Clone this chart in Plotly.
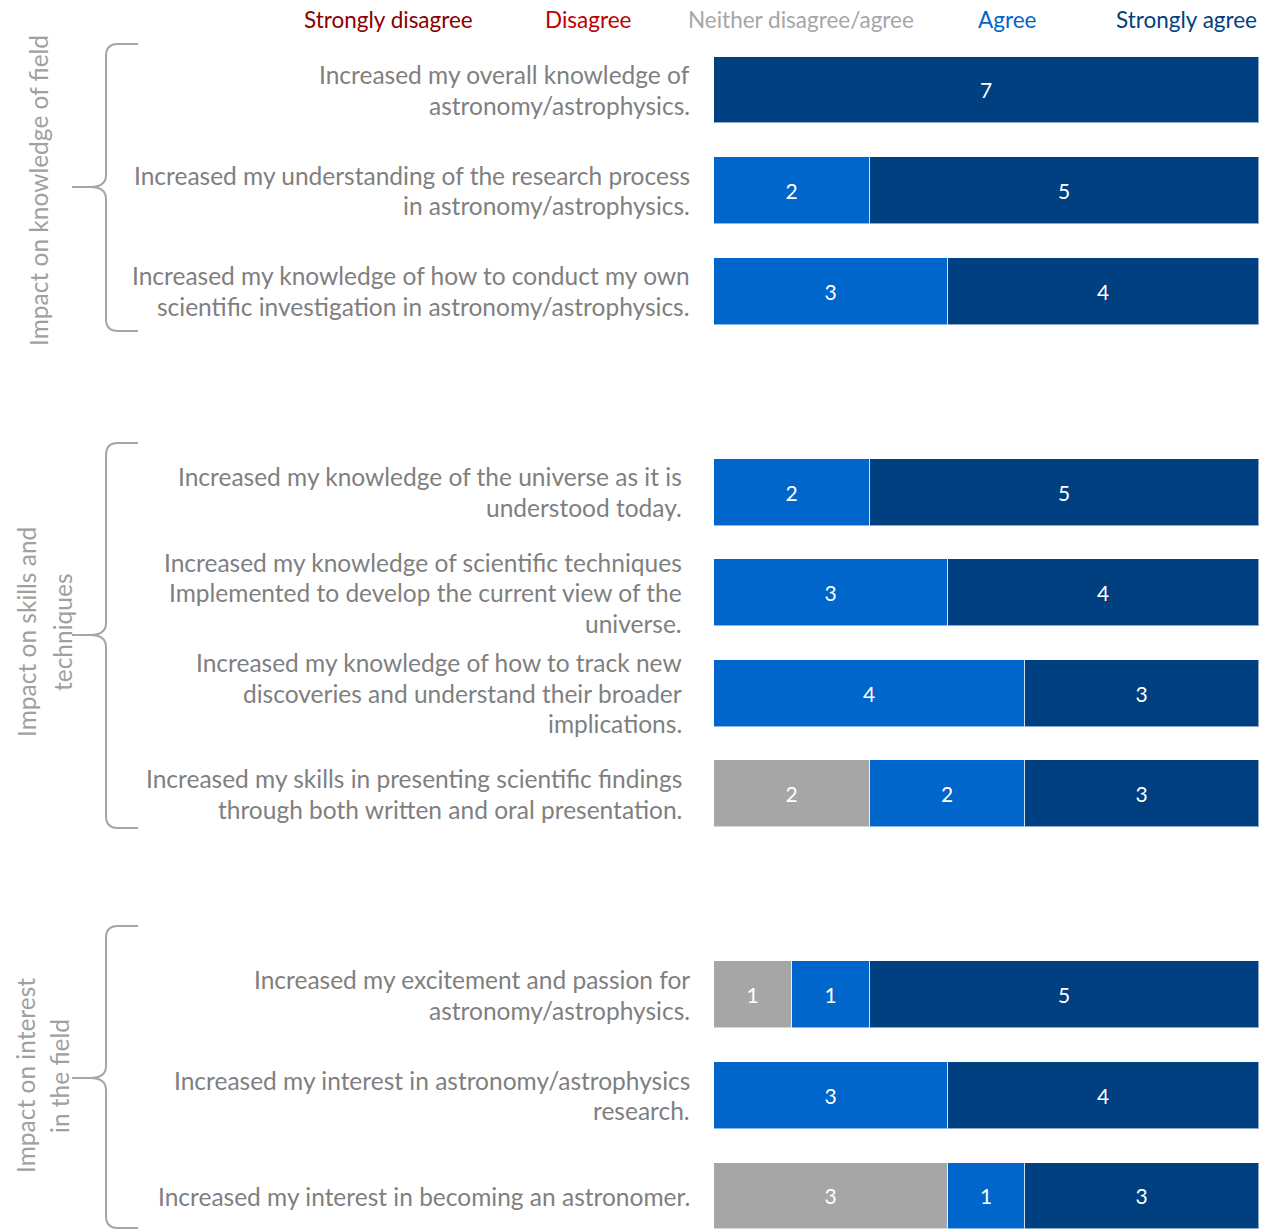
import plotly.graph_objects as go

W, H = 1267, 1230

# ---------------- data ----------------
group_names = [
    ["Impact on knowledge of field"],
    ["Impact on skills and", "techniques"],
    ["Impact on interest", "in the field"],
]
questions = [
    ["Increased my overall knowledge of<br>astronomy/astrophysics.",
     "Increased my understanding of the research process<br>in astronomy/astrophysics.",
     "Increased my knowledge of how to conduct my own<br>scientific investigation in astronomy/astrophysics."],
    ["Increased my knowledge of the universe as it is<br>understood today.",
     "Increased my knowledge of scientific techniques<br>Implemented to develop the current view of the<br>universe.",
     "Increased my knowledge of how to track new<br>discoveries and understand their broader<br>implications.",
     "Increased my skills in presenting scientific findings<br>through both written and oral presentation."],
    ["Increased my excitement and passion for<br>astronomy/astrophysics.",
     "Increased my interest in astronomy/astrophysics<br>research.",
     "Increased my interest in becoming an astronomer."],
]
categories = ["Strongly disagree", "Disagree", "Neither disagree/agree", "Agree", "Strongly agree"]
strongly_disagree = [0, 0, 0, 0, 0, 0, 0, 0, 0, 0]
disagree          = [0, 0, 0, 0, 0, 0, 0, 0, 0, 0]
neither           = [0, 0, 0, 0, 0, 0, 2, 1, 0, 3]
agree             = [0, 2, 3, 2, 3, 4, 2, 1, 3, 1]
strongly_agree    = [7, 5, 4, 5, 4, 3, 3, 5, 4, 3]
series = [strongly_disagree, disagree, neither, agree, strongly_agree]

# ---------------- styles ----------------
colors = ["#8B0000", "#C00000", "#A6A6A6", "#0066CC", "#003F80"]
FONT = "Lato"
label_gray = "#7F7F7F"
group_gray = "#A0A0A0"

# row positions: groups separated by one empty slot
ypos, group_of_row = [], []
slot = 0
for gi, g in enumerate(questions):
    for q in g:
        ypos.append(slot)
        group_of_row.append(gi)
        slot += 1
    slot += 1
labels = [q for g in questions for q in g]

fig = go.Figure()
for name, vals, col in zip(categories, series, colors):
    fig.add_trace(go.Bar(
        y=ypos, x=vals, name=name, orientation="h", width=0.666,
        marker=dict(color=col, line=dict(color="rgba(255,255,255,0.55)", width=1)),
        text=[str(v) if v else "" for v in vals],
        textposition="inside", insidetextanchor="middle", textangle=0,
        textfont=dict(family=FONT, size=21, color="white"),
        hoverinfo="skip", showlegend=False,
    ))

px_per_slot = 1106 / 11
y_top = -90 / px_per_slot
y_bot = y_top + H / px_per_slot

fig.update_layout(
    width=W, height=H, margin=dict(l=0, r=0, t=0, b=0),
    barmode="stack", bargap=0,
    paper_bgcolor="white", plot_bgcolor="white",
    xaxis=dict(domain=[714 / W, 1259 / W], range=[0, 7], visible=False, fixedrange=True),
    yaxis=dict(range=[y_bot, y_top], visible=False, fixedrange=True),
    font=dict(family=FONT),
)

# question labels (one annotation per line, 30 px line pitch)
right_edge = [692, 684, 692]
line_pitch = 30.5 / px_per_slot
for y, lab, gi in zip(ypos, labels, group_of_row):
    lines = lab.split("<br>")
    n = len(lines)
    for k, ln in enumerate(lines):
        fig.add_annotation(
            x=right_edge[gi] / W, xref="paper", y=y + (k - (n - 1) / 2) * line_pitch, yref="y",
            xanchor="right", yanchor="middle", align="right",
            text=ln, showarrow=False,
            font=dict(family=FONT, size=24.5, color=label_gray),
        )

# legend as coloured text
legend_x = [388, 588, 801, 1007, 1186]
for name, col, lx in zip(categories, colors, legend_x):
    fig.add_annotation(
        x=lx / W, xref="paper", y=1 - 20 / H, yref="paper",
        xanchor="center", yanchor="middle", text=name, showarrow=False,
        font=dict(family=FONT, size=22.5, color=col),
    )

# braces and group titles (pixel geometry)
def P(x, y):
    return f"{x / W:.5f},{1 - y / H:.5f}"

brace_spans = [(44, 331, 187), (443, 828, 635), (926, 1228, 1078)]
title_x = [[38], [26, 62], [25, 59]]
title_dy = [4, -3, -2]
for (T, B, M), names, txs, dy in zip(brace_spans, group_names, title_x, title_dy):
    xv, xr, xt, r = 106, 138, 72, 12
    path = (f"M {P(xr, T)} L {P(xv + r, T)} Q {P(xv, T)} {P(xv, T + r)} "
            f"L {P(xv, M - r)} Q {P(xv, M)} {P(xv - 16, M)} L {P(xt, M)} "
            f"L {P(xv - 16, M)} Q {P(xv, M)} {P(xv, M + r)} "
            f"L {P(xv, B - r)} Q {P(xv, B)} {P(xv + r, B)} L {P(xr, B)}")
    fig.add_shape(type="path", path=path, xref="paper", yref="paper",
                  line=dict(color="#A6A6A6", width=2))
    for nm, tx in zip(names, txs):
        fig.add_annotation(
            x=tx / W, xref="paper", y=1 - (M + dy) / H, yref="paper",
            xanchor="center", yanchor="middle", textangle=-90,
            text=nm, showarrow=False,
            font=dict(family=FONT, size=24.5, color=group_gray),
        )

fig.write_html("out.html")
